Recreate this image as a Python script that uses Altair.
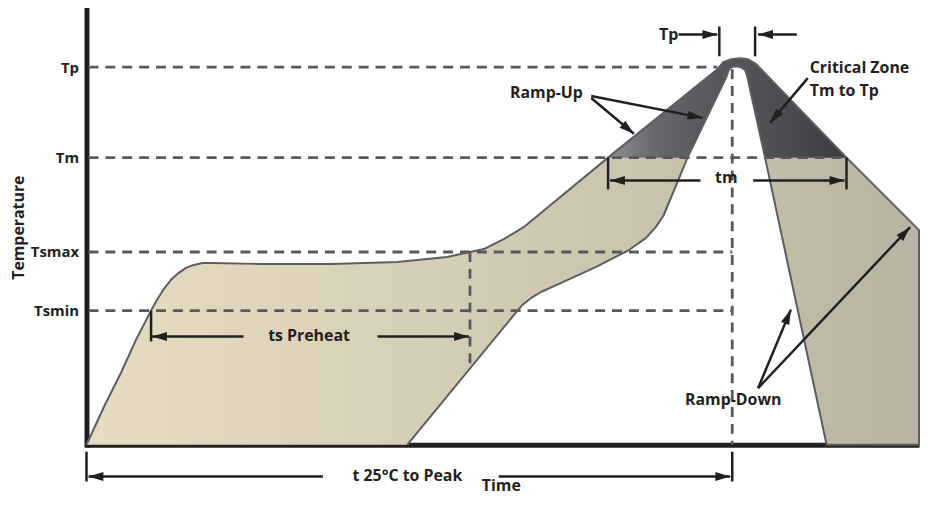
import math
import altair as alt
import pandas as pd

# ---------------- data (time units on x, temperature units on y) ----------------
LEVEL_NAMES = ["Tp", "Tm", "Tsmax", "Tsmin"]
LEVEL_VALUES = [380, 289, 194, 135]

# outline of the whole reflow band (outer edge, peak, right band, inner edge)
profile_t = [0, 18, 35, 50, 65, 71, 78, 85, 93, 100, 108, 117, 126, 173, 246, 313, 363, 386,
             400, 420, 440,
             525, 635, 641, 649, 658, 666, 673, 678, 765, 838, 838, 745, 683,
             665, 663, 659, 654, 649, 646, 644, 605, 581, 573, 563, 546, 513, 480,
             458, 448, 439, 433, 323]
profile_T = [0, 39, 73, 106, 135, 146, 157, 166, 173, 178, 181, 183, 183, 182, 182, 184, 189, 194,
             197, 207, 219,
             289, 378, 385, 388, 389, 388, 384, 379, 289, 216, 0, 0, 289,
             371, 377, 380, 381, 380, 376, 370, 289, 231, 219, 208, 196, 179, 164,
             154, 148, 141, 134, 0]

# critical zone (Tm to Tp)
crit_t = [525, 635, 641, 649, 658, 666, 673, 678, 765, 683, 665, 663, 659, 654, 649, 646, 644, 605]
crit_T = [289, 378, 385, 388, 389, 388, 384, 379, 289, 289, 371, 377, 380, 381, 380, 376, 370, 289]

# dashed guide lines
guide_x = [2, 2, 2, 2, 650, 386]
guide_x2 = [635, 765, 650, 650, 650, 386]
guide_y = [380, 289, 194, 135, 378, 194]
guide_y2 = [380, 289, 194, 135, 0, 80]

# short solid ticks
tick_x = [637, 673, 525, 765, 65, 0, 650]
tick_y = [421, 421, 289, 289, 135, -7, -7]
tick_y2 = [391, 391, 257, 257, 104, -37, -37]

# arrows (start -> tip)
arrow_x1 = [596, 715, 508, 508, 726, 618, 671, 158, 293, 238, 415, 676, 676]
arrow_y1 = [413, 413, 351, 349, 369, 266, 266, 109, 109, -32, -32, 57, 57]
arrow_x2 = [635, 676, 620, 551, 688, 527, 763, 66, 385, 2, 648, 709, 829]
arrow_y2 = [413, 413, 329, 313, 324, 266, 266, 109, 109, -32, -32, 136, 219]

# annotations
center_labels = ["Tp", "Ramp-Up", "tm", "ts Preheat", "t 25°C to Peak", "Ramp-Down"]
center_x = [586, 463, 644, 224, 323, 651]
center_y = [407, 349, 263, 104, -36, 40]
left_labels = ["Critical Zone", "Tm to Tp"]
left_x = [728, 728]
left_y = [374, 351]

# ---------------- styling ----------------
C_TEXT = "#231f20"
C_EDGE = "#5c5d5f"
C_DASH = "#58595b"
FONT = "Open Sans"

beige = alt.LinearGradient(
    gradient="linear", x1=0, x2=1, y1=0, y2=0,
    stops=[alt.GradientStop(color="#e6dcc1", offset=0),
           alt.GradientStop(color="#dbd2ba", offset=0.3),
           alt.GradientStop(color="#cbc4ae", offset=0.65),
           alt.GradientStop(color="#c3bda9", offset=0.8),
           alt.GradientStop(color="#b8b3a2", offset=1)])
dark = alt.LinearGradient(
    gradient="linear", x1=0, x2=1, y1=0, y2=0,
    stops=[alt.GradientStop(color="#8f9095", offset=0),
           alt.GradientStop(color="#66676b", offset=0.2),
           alt.GradientStop(color="#56575a", offset=0.45),
           alt.GradientStop(color="#4b4c4f", offset=0.75),
           alt.GradientStop(color="#3a3b3e", offset=1)])

xs = alt.Scale(domain=[0, 838], nice=False, zero=False)
ys = alt.Scale(domain=[0, 438], nice=False, zero=False)

label_expr = " : ".join(
    f"datum.value == {v} ? '{n}'" for n, v in zip(LEVEL_NAMES, LEVEL_VALUES)) + " : ''"

xaxis = alt.Axis(title="Time", labels=False, ticks=False, grid=False,
                 domainColor=C_TEXT, domainWidth=5,
                 titleFont=FONT, titleFontSize=16, titleFontWeight="bold", titleColor=C_TEXT,
                 titleX=417, titleY=46, titleBaseline="alphabetic", titleAlign="center", titleAngle=0)
yaxis = alt.Axis(title="Temperature", values=LEVEL_VALUES, labelExpr=label_expr,
                 ticks=False, grid=False, domainColor=C_TEXT, domainWidth=5, domainCap="square",
                 labelFont=FONT, labelFontSize=15, labelFontWeight="bold", labelColor=C_TEXT,
                 labelPadding=8, labelOverlap=False,
                 titleFont=FONT, titleFontSize=16, titleFontWeight="bold", titleColor=C_TEXT,
                 titleX=-63, titleY=219, titleAngle=270, titleBaseline="alphabetic", titleAlign="center")


def X(f):
    return alt.X(f, type="quantitative", scale=xs, axis=xaxis)


def Y(f):
    return alt.Y(f, type="quantitative", scale=ys, axis=yaxis)


prof = pd.DataFrame({"i": list(range(len(profile_t))), "t": profile_t, "T": profile_T})
crit = pd.DataFrame({"i": list(range(len(crit_t))), "t": crit_t, "T": crit_T})
guides = pd.DataFrame({"x": guide_x, "x2": guide_x2, "y": guide_y, "y2": guide_y2})
ticks = pd.DataFrame({"x": tick_x, "y": tick_y, "y2": tick_y2})
arrows = pd.DataFrame({"x": arrow_x1, "y": arrow_y1, "x2": arrow_x2, "y2": arrow_y2})
heads = pd.DataFrame({
    "x": arrow_x2, "y": arrow_y2,
    "ang": [math.degrees(math.atan2(bx - ax, by - ay)) % 360
            for ax, ay, bx, by in zip(arrow_x1, arrow_y1, arrow_x2, arrow_y2)]})
ctext = pd.DataFrame({"x": center_x, "y": center_y, "label": center_labels})
ltext = pd.DataFrame({"x": left_x, "y": left_y, "label": left_labels})

band_fill = alt.Chart(prof).mark_line(fill=beige, strokeWidth=0, strokeOpacity=0).encode(
    x=X("t"), y=Y("T"), order=alt.Order("i:Q"))
crit_fill = alt.Chart(crit).mark_line(fill=dark, strokeWidth=0, strokeOpacity=0).encode(
    x=X("t"), y=Y("T"), order=alt.Order("i:Q"))
dashes = alt.Chart(guides).mark_rule(stroke=C_DASH, strokeWidth=2.8, strokeDash=[10, 7]).encode(
    x=X("x"), x2="x2", y=Y("y"), y2="y2")
outline = alt.Chart(prof).mark_line(stroke=C_EDGE, strokeWidth=2, strokeJoin="round").encode(
    x=X("t"), y=Y("T"), order=alt.Order("i:Q"))
tick_rules = alt.Chart(ticks).mark_rule(stroke=C_TEXT, strokeWidth=2.5).encode(
    x=X("x"), y=Y("y"), y2="y2")
shafts = alt.Chart(arrows).mark_rule(stroke=C_TEXT, strokeWidth=2.5).encode(
    x=X("x"), y=Y("y"), x2="x2", y2="y2")
HEAD = "M0,0 L0.3,1 L-0.3,1 Z"
head_marks = alt.Chart(heads).mark_point(shape=HEAD, filled=True, size=900, fill=C_TEXT,
                                         strokeWidth=0, opacity=1).encode(
    x=X("x"), y=Y("y"), angle=alt.Angle("ang:Q", scale=None))
txt_c = alt.Chart(ctext).mark_text(font=FONT, fontSize=16, fontWeight="bold", color=C_TEXT,
                                   align="center", baseline="alphabetic").encode(
    x=X("x"), y=Y("y"), text="label:N")
txt_l = alt.Chart(ltext).mark_text(font=FONT, fontSize=16, fontWeight="bold", color=C_TEXT,
                                   align="left", baseline="alphabetic").encode(
    x=X("x"), y=Y("y"), text="label:N")

chart = alt.layer(band_fill, crit_fill, dashes, outline, tick_rules, shafts, head_marks,
                  txt_c, txt_l).properties(
    width=838, height=438,
    padding={"left": 79, "top": 0, "right": 3, "bottom": 52},
    autosize=alt.AutoSizeParams(type="none"),
    background="white",
).configure_view(stroke=None)

chart.save("out.html", embed_options={"renderer": "svg", "actions": False})
